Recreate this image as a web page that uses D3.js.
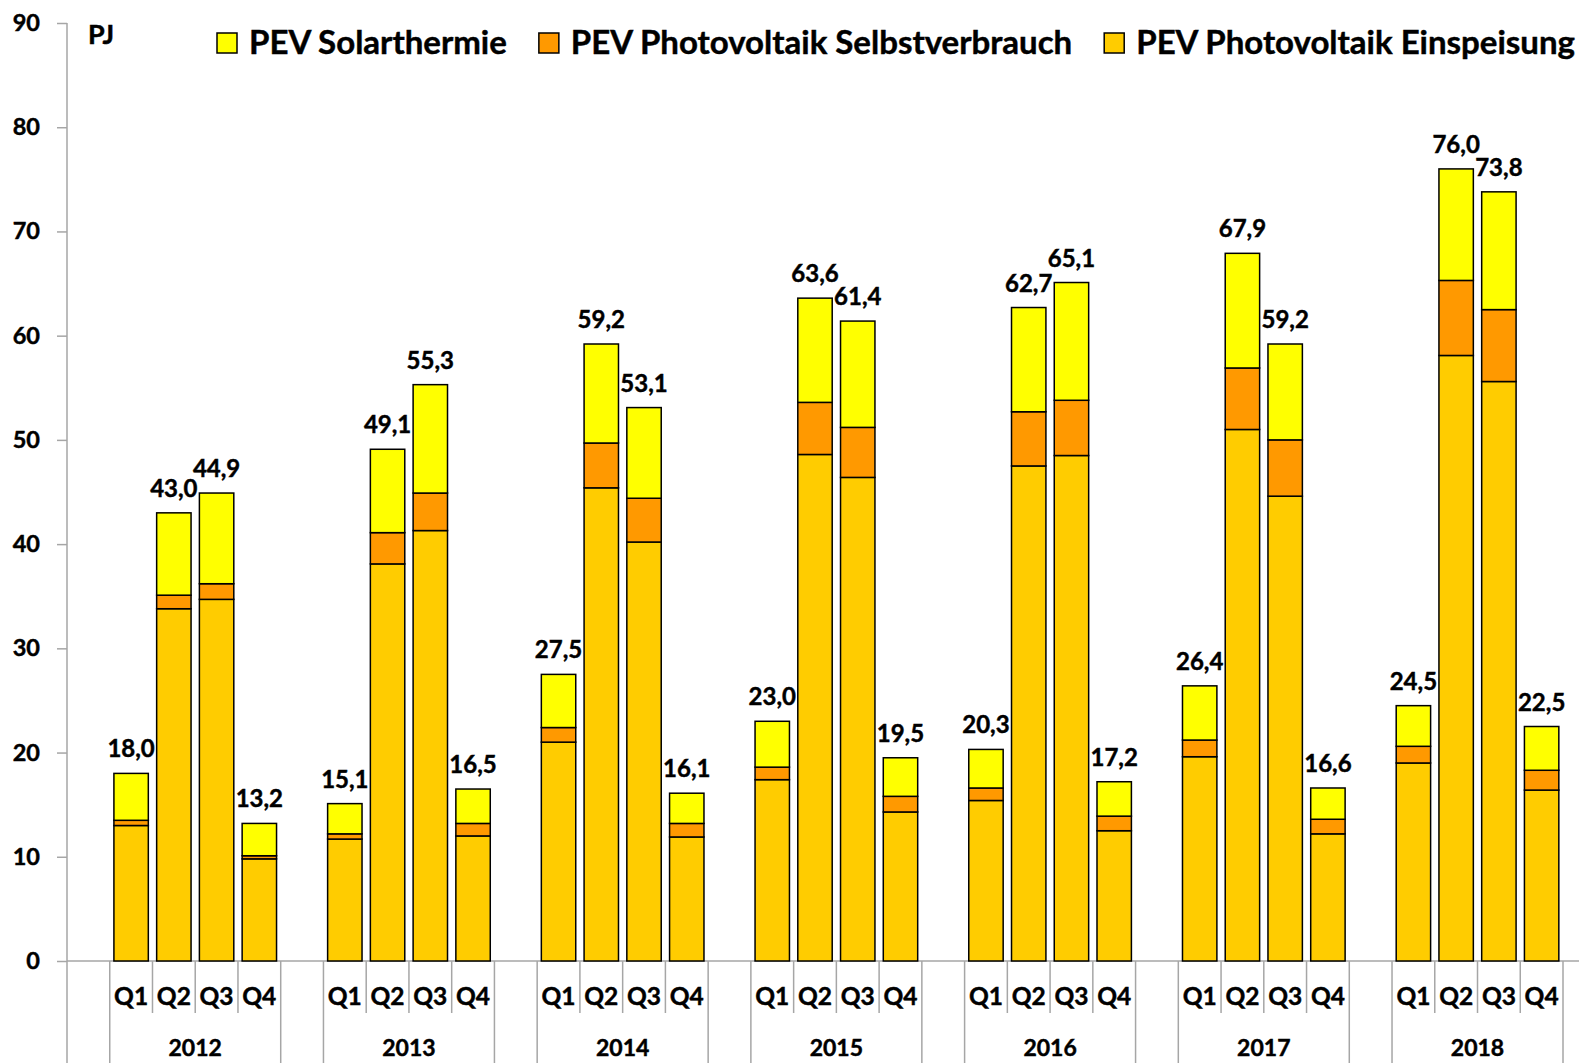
<!DOCTYPE html>
<html>
<head>
<meta charset="utf-8">
<script src="https://cdn.jsdelivr.net/npm/d3@7"></script>
<style>
  body { margin: 0; background: #fff; }
  svg { display: block; font-family: Lato, "Open Sans", sans-serif; font-weight: bold; }
  svg text { fill: #000; stroke: #000; stroke-width: 0.45px; }
  .axis path, .axis line { stroke: #a6a6a6; stroke-width: 1.5; }
  .axis text { font-size: 23.5px; font-weight: bold; font-family: Lato, sans-serif; }
</style>
</head>
<body>
<div id="chart"></div>
<script>
// data, PJ per quarter
var years = ["2012", "2013", "2014", "2015", "2016", "2017", "2018"];
var quarters = ["Q1", "Q2", "Q3", "Q4"];
var einspeisung = [
  13.0, 33.8, 34.7, 9.8,
  11.7, 38.1, 41.3, 12.0,
  21.0, 45.4, 40.2, 11.9,
  17.4, 48.6, 46.4, 14.3,
  15.4, 47.5, 48.5, 12.5,
  19.6, 51.0, 44.6, 12.2,
  19.0, 58.1, 55.6, 16.4
];
var selbstverbrauch = [
  0.5, 1.3, 1.5, 0.3,
  0.5, 3.0, 3.6, 1.2,
  1.4, 4.3, 4.2, 1.3,
  1.2, 5.0, 4.8, 1.5,
  1.2, 5.2, 5.3, 1.4,
  1.6, 5.9, 5.4, 1.4,
  1.6, 7.2, 6.9, 1.9
];
var solarthermie = [
  4.5, 7.9, 8.7, 3.1,
  2.9, 8.0, 10.4, 3.3,
  5.1, 9.5, 8.7, 2.9,
  4.4, 10.0, 10.2, 3.7,
  3.7, 10.0, 11.3, 3.3,
  5.2, 11.0, 9.2, 3.0,
  3.9, 10.7, 11.3, 4.2
];
var yTicks = [0, 10, 20, 30, 40, 50, 60, 70, 80, 90];
var seriesNames = ["PEV Solarthermie", "PEV Photovoltaik Selbstverbrauch", "PEV Photovoltaik Einspeisung"];
var seriesKeys = ["sol", "self", "ein"];
var colors = { ein: "#ffcc00", self: "#ff9900", sol: "#ffff00" };

var width = 1579, height = 1063;
var axisX = 67, plotTop = 23, plotBottom = 961, slotsEnd = 1563;

// one empty slot before each year, then the four quarters
var slots = [];
var rows = [];
years.forEach(function (yr, yi) {
  slots.push("gap-" + yr);
  quarters.forEach(function (q, qi) {
    var i = yi * 4 + qi;
    slots.push(yr + "-" + q);
    rows.push({ key: yr + "-" + q, year: yr, q: q,
      ein: einspeisung[i], self: selbstverbrauch[i], sol: solarthermie[i] });
  });
});

var x = d3.scaleBand().domain(slots).range([axisX, slotsEnd]);
var y = d3.scaleLinear().domain([0, 90]).range([plotBottom, plotTop]);
var barW = x.bandwidth() * 0.805;

var svg = d3.select("#chart").append("svg")
  .attr("width", width)
  .attr("height", height);

// y axis
var yAxis = svg.append("g")
  .attr("class", "axis")
  .attr("transform", "translate(" + axisX + ",0)")
  .call(d3.axisLeft(y).tickValues(yTicks).tickSize(10).tickSizeOuter(0).tickPadding(17));
yAxis.select(".domain").remove();

// axis lines
svg.append("line")
  .attr("x1", axisX).attr("x2", axisX).attr("y1", plotTop).attr("y2", height)
  .attr("stroke", "#a6a6a6").attr("stroke-width", 1.5);
svg.append("line")
  .attr("x1", axisX).attr("x2", width).attr("y1", plotBottom).attr("y2", plotBottom)
  .attr("stroke", "#a6a6a6").attr("stroke-width", 1.5);

// category dividers: short ones between quarters, long ones round each year
var divs = [];
slots.forEach(function (s, i) {
  var isGap = s.indexOf("gap") === 0;
  var prevGap = i > 0 && slots[i - 1].indexOf("gap") === 0;
  divs.push({ x: x(s), full: isGap || prevGap || i === 0 });
});
divs.push({ x: slotsEnd, full: true });
svg.append("g").selectAll("line").data(divs.filter(function (d) { return d.x > axisX; }))
  .join("line")
  .attr("x1", function (d) { return d.x; })
  .attr("x2", function (d) { return d.x; })
  .attr("y1", plotBottom)
  .attr("y2", function (d) { return d.full ? height : 1013; })
  .attr("stroke", "#a6a6a6").attr("stroke-width", 1.5);

// quarter and year labels
svg.append("g").selectAll("text").data(rows).join("text")
  .attr("x", function (d) { return x(d.key) + x.bandwidth() / 2; })
  .attr("y", 1005)
  .attr("text-anchor", "middle")
  .style("font-size", "24.5px")
  .text(function (d) { return d.q; });

svg.append("g").selectAll("text").data(years).join("text")
  .attr("x", function (d) { return (x(d + "-Q1") + x(d + "-Q4") + x.bandwidth()) / 2; })
  .attr("y", 1056)
  .attr("text-anchor", "middle")
  .style("font-size", "23px")
  .text(function (d) { return d; });

// stacked bars
var stack = d3.stack().keys(["ein", "self", "sol"]);
var layers = stack(rows);

svg.append("g").selectAll("g").data(layers).join("g")
  .attr("fill", function (d) { return colors[d.key]; })
  .selectAll("rect").data(function (d) { return d; }).join("rect")
  .attr("x", function (d) { return x(d.data.key) + (x.bandwidth() - barW) / 2; })
  .attr("y", function (d) { return y(d[1]); })
  .attr("width", barW)
  .attr("height", function (d) { return y(d[0]) - y(d[1]); })
  .attr("stroke", "#000")
  .attr("stroke-width", 1.5);

// total labels
svg.append("g").selectAll("text").data(rows).join("text")
  .attr("x", function (d) { return x(d.key) + x.bandwidth() / 2; })
  .attr("y", function (d) { return y(d.ein + d.self + d.sol) - 16; })
  .attr("text-anchor", "middle")
  .style("font-size", "24px")
  .text(function (d) { return (d.ein + d.self + d.sol).toFixed(1).replace(".", ","); });

// unit
svg.append("text").attr("x", 88).attr("y", 44).style("font-size", "27px").text("PJ");

// legend
var legend = svg.append("g");
var lx = 217;
seriesNames.forEach(function (name, i) {
  legend.append("rect")
    .attr("x", lx).attr("y", 33).attr("width", 20).attr("height", 20)
    .attr("fill", colors[seriesKeys[i]]).attr("stroke", "#000").attr("stroke-width", 1.5);
  var t = legend.append("text")
    .attr("x", lx + 32).attr("y", 54)
    .style("font-size", "33px")
    .text(name);
  lx += 32 + t.node().getComputedTextLength() + 32;
});
</script>
</body>
</html>
